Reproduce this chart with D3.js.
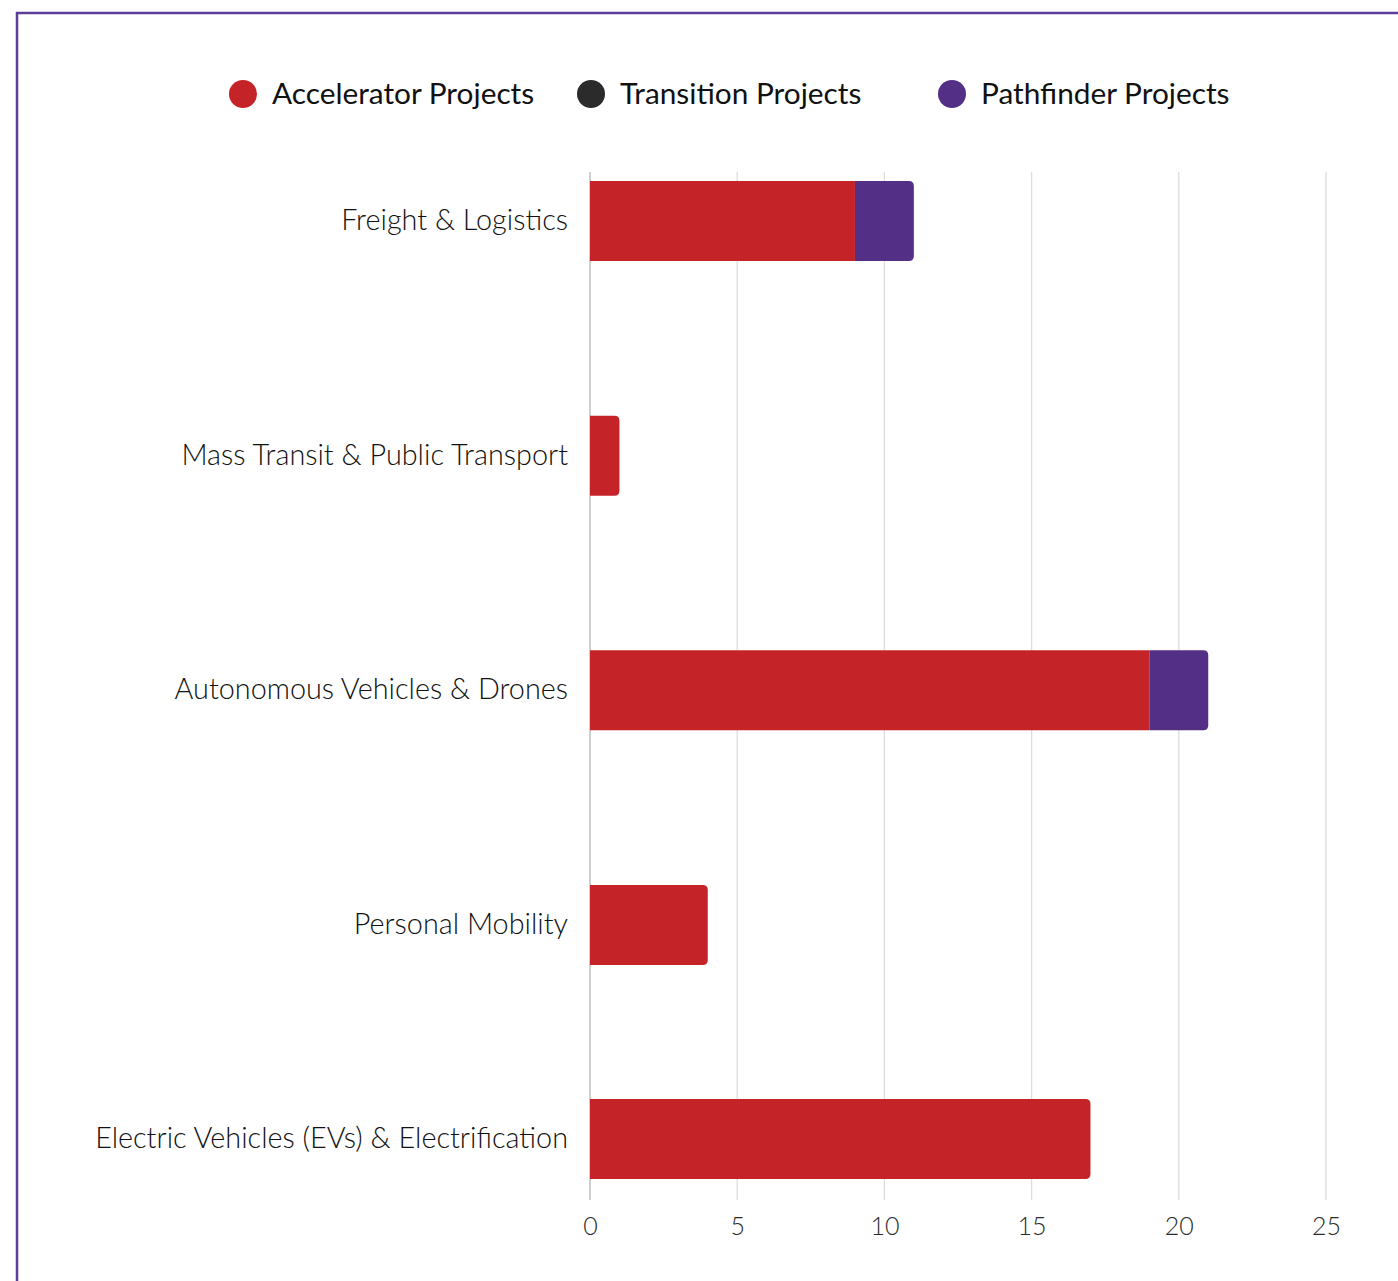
<!DOCTYPE html>
<html><head><meta charset="utf-8">
<script src="https://cdn.jsdelivr.net/npm/d3@7"></script>
<style>
html,body{margin:0;padding:0;background:#fff;}
svg{display:block;}
</style></head>
<body>
<script>
const categories = ["Freight & Logistics","Mass Transit & Public Transport","Autonomous Vehicles & Drones","Personal Mobility","Electric Vehicles (EVs) & Electrification"];
const seriesNames = ["Accelerator Projects","Transition Projects","Pathfinder Projects"];
const accelerator = [9,1,19,4,17];
const transition = [0,0,0,0,0];
const pathfinder = [2,0,2,0,0];
const xTicks = [0,5,10,15,20,25];
const colors = ["#c42428","#2b2b2b","#532f85"];

const W = 1398, H = 1281;
const svg = d3.select("body").append("svg").attr("width", W).attr("height", H);
const font = "Lato, 'Open Sans', sans-serif";

// frame
svg.append("path").attr("d", `M17,${H+5} V13 H${W+5}`).attr("fill","none").attr("stroke","#5c3d99").attr("stroke-width",2.5);

const x = d3.scaleLinear().domain([0,25]).range([590,1326]);
const plotTop = 172, plotBottom = 1200;
const yc = d3.scaleLinear().domain([0, categories.length-2, categories.length-1]).range([221, 925, 1139]);
const barH = 80;

// grid
svg.append("g").selectAll("line").data(xTicks).join("line")
  .attr("x1", d=>x(d)).attr("x2", d=>x(d)).attr("y1", plotTop).attr("y2", plotBottom)
  .attr("stroke", d=> d===0 ? "#b5b5b5" : "#dcdcdc").attr("stroke-width",1.3);

// axis labels
const xAxis = d3.axisBottom(x).tickValues(xTicks).tickSize(0).tickPadding(0);
const ax = svg.append("g").attr("transform", `translate(0,${plotBottom+17})`).call(xAxis);
ax.select(".domain").remove();
ax.selectAll("text").attr("font-family", font).attr("font-size", 25).attr("fill","#2a2a2a").attr("font-weight",300).attr("dy","0.71em");

// stacked data
const rows = categories.map((c,i)=>({cat:c, i, vals:[accelerator[i], transition[i], pathfinder[i]]}));
const stack = d3.stack().keys([0,1,2]).value((d,k)=>d.vals[k]);
const stacked = stack(rows);

function segPath(x0, x1, y0, h, roundRight){
  const r = roundRight ? Math.min(5, (x1-x0)) : 0;
  return `M${x0},${y0} H${x1-r} Q${x1},${y0} ${x1},${y0+r} V${y0+h-r} Q${x1},${y0+h} ${x1-r},${y0+h} H${x0} Z`;
}

stacked.forEach((layer, k)=>{
  svg.append("g").selectAll("path").data(layer.filter(d=>d[1]>d[0])).join("path")
    .attr("fill", colors[k])
    .attr("d", d=>{
      const i = d.data.i;
      const total = d3.sum(d.data.vals);
      const isLast = Math.abs(d[1]-total) < 1e-9;
      return segPath(x(d[0]), x(d[1]), yc(i)-barH/2, barH, isLast);
    });
});

// category labels
svg.append("g").selectAll("text").data(categories).join("text")
  .attr("x", 568).attr("y", (d,i)=>yc(i)-1).attr("dy","0.35em")
  .attr("text-anchor","end").attr("font-family", font).attr("font-size", 28.8).attr("font-weight",300)
  .attr("fill","#111").text(d=>d);

// legend
const legX = [243, 591, 952];
const lg = svg.append("g").selectAll("g").data(seriesNames).join("g")
  .attr("transform",(d,i)=>`translate(${legX[i]},94)`);
lg.append("circle").attr("r",14).attr("fill",(d,i)=>colors[i]);
lg.append("text").attr("x",29).attr("dy","0.35em").attr("font-family",font).attr("font-size",29.8)
  .attr("fill","#111").text(d=>d);
</script>
</body></html>
